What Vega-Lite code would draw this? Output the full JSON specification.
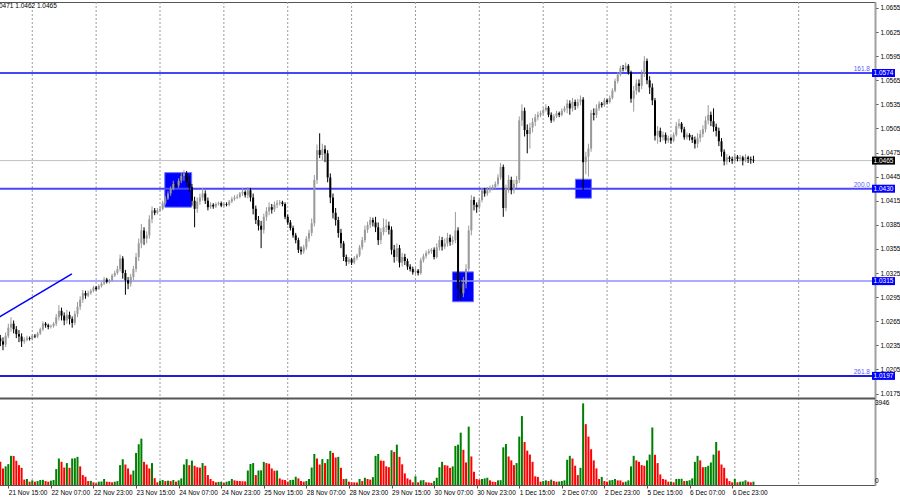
{
"$schema": "https://vega.github.io/schema/vega-lite/v6.json",
"background": "white",
"width": 900,
"height": 500,
"autosize": {"type": "fit", "contains": "padding"},
"padding": {"left": -7, "top": 1, "right": 0, "bottom": 4},
"config": {
  "view": {"stroke": "#555555"},
  "axis": {"labelFont": "Liberation Sans", "labelFontSize": 6.5, "labelColor": "#000000", "tickColor": "#555555", "domainColor": "#a0a0a0", "domainWidth": 2, "grid": false, "labelOverlap": false, "labelFlush": false, "labelBound": false},
  "text": {"font": "Liberation Sans"}
},
"resolve": {"scale": {"y": "independent"}, "axis": {"y": "independent"}},
"datasets": {
  "grid": [{"i":9},{"i":33},{"i":57},{"i":81},{"i":105},{"i":129},{"i":153},{"i":177},{"i":201},{"i":225},{"i":249},{"i":273},{"i":297}],
  "boxes": [{"i":58.8,"i2":68.9,"p":1.0450,"p2":1.0407},{"i":166.9,"i2":174.8,"p":1.03265,"p2":1.02893},{"i":213.1,"i2":219.1,"p":1.04418,"p2":1.04182}],
  "trend": [{"i":-3.5,"p":1.0270},{"i":23.9,"p":1.0324}],
  "fib": [{"p":1.0574,"f":"161.8"},{"p":1.0430,"f":"200.0"},{"p":1.0197,"f":"261.8"}],
  "tags": [{"p":1.0574,"k":"lvl"},{"p":1.0430,"k":"lvl"},{"p":1.0315,"k":"lvl"},{"p":1.0197,"k":"lvl"},{"p":1.0465,"k":"cur"}],
  "bars": [
{"i":-3,"o":1.0244,"h":1.0248,"l":1.0234,"c":1.0240,"v":1120},
{"i":-2,"o":1.0240,"h":1.0245,"l":1.0229,"c":1.0236,"v":800},
{"i":-1,"o":1.0236,"h":1.0251,"l":1.0233,"c":1.0247,"v":900},
{"i":0,"o":1.0247,"h":1.0262,"l":1.0244,"c":1.0257,"v":1010},
{"i":1,"o":1.0257,"h":1.0270,"l":1.0252,"c":1.0262,"v":1410},
{"i":2,"o":1.0262,"h":1.0266,"l":1.0250,"c":1.0255,"v":1400},
{"i":3,"o":1.0255,"h":1.0259,"l":1.0244,"c":1.0249,"v":1170},
{"i":4,"o":1.0249,"h":1.0254,"l":1.0239,"c":1.0246,"v":960},
{"i":5,"o":1.0246,"h":1.0250,"l":1.0233,"c":1.0240,"v":830},
{"i":6,"o":1.0240,"h":1.0245,"l":1.0237,"c":1.0242,"v":260},
{"i":7,"o":1.0242,"h":1.0247,"l":1.0240,"c":1.0244,"v":290},
{"i":8,"o":1.0244,"h":1.0246,"l":1.0241,"c":1.0243,"v":160},
{"i":9,"o":1.0243,"h":1.0249,"l":1.0241,"c":1.0247,"v":225},
{"i":10,"o":1.0247,"h":1.0249,"l":1.0244,"c":1.0246,"v":160},
{"i":11,"o":1.0246,"h":1.0252,"l":1.0244,"c":1.0250,"v":190},
{"i":12,"o":1.0250,"h":1.0257,"l":1.0248,"c":1.0255,"v":240},
{"i":13,"o":1.0255,"h":1.0265,"l":1.0253,"c":1.0262,"v":250},
{"i":14,"o":1.0262,"h":1.0264,"l":1.0257,"c":1.0260,"v":190},
{"i":15,"o":1.0260,"h":1.0262,"l":1.0255,"c":1.0258,"v":160},
{"i":16,"o":1.0258,"h":1.0261,"l":1.0256,"c":1.0259,"v":210},
{"i":17,"o":1.0259,"h":1.0264,"l":1.0257,"c":1.0262,"v":240},
{"i":18,"o":1.0262,"h":1.0274,"l":1.0259,"c":1.0270,"v":770},
{"i":19,"o":1.0270,"h":1.0285,"l":1.0266,"c":1.0278,"v":1280},
{"i":20,"o":1.0278,"h":1.0282,"l":1.0266,"c":1.0272,"v":1120},
{"i":21,"o":1.0272,"h":1.0276,"l":1.0260,"c":1.0266,"v":845},
{"i":22,"o":1.0266,"h":1.0279,"l":1.0262,"c":1.0273,"v":1060},
{"i":23,"o":1.0273,"h":1.0277,"l":1.0261,"c":1.0268,"v":830},
{"i":24,"o":1.0268,"h":1.0271,"l":1.0257,"c":1.0263,"v":1280},
{"i":25,"o":1.0263,"h":1.0278,"l":1.0260,"c":1.0274,"v":1290},
{"i":26,"o":1.0274,"h":1.0289,"l":1.0270,"c":1.0283,"v":1360},
{"i":27,"o":1.0283,"h":1.0296,"l":1.0279,"c":1.0292,"v":900},
{"i":28,"o":1.0292,"h":1.0304,"l":1.0288,"c":1.0300,"v":480},
{"i":29,"o":1.0300,"h":1.0303,"l":1.0293,"c":1.0297,"v":400},
{"i":30,"o":1.0297,"h":1.0303,"l":1.0295,"c":1.0300,"v":190},
{"i":31,"o":1.0300,"h":1.0305,"l":1.0298,"c":1.0303,"v":200},
{"i":32,"o":1.0303,"h":1.0309,"l":1.0301,"c":1.0307,"v":130},
{"i":33,"o":1.0307,"h":1.0309,"l":1.0303,"c":1.0305,"v":80},
{"i":34,"o":1.0305,"h":1.0311,"l":1.0304,"c":1.0309,"v":160},
{"i":35,"o":1.0309,"h":1.0314,"l":1.0307,"c":1.0312,"v":170},
{"i":36,"o":1.0312,"h":1.0320,"l":1.0310,"c":1.0317,"v":290},
{"i":37,"o":1.0317,"h":1.0319,"l":1.0312,"c":1.0314,"v":160},
{"i":38,"o":1.0314,"h":1.0318,"l":1.0312,"c":1.0316,"v":150},
{"i":39,"o":1.0316,"h":1.0324,"l":1.0314,"c":1.0322,"v":130},
{"i":40,"o":1.0322,"h":1.0328,"l":1.0320,"c":1.0325,"v":160},
{"i":41,"o":1.0325,"h":1.0334,"l":1.0323,"c":1.0330,"v":190},
{"i":42,"o":1.0330,"h":1.0348,"l":1.0327,"c":1.0343,"v":960},
{"i":43,"o":1.0343,"h":1.0346,"l":1.0318,"c":1.0325,"v":1250},
{"i":44,"o":1.0325,"h":1.0329,"l":1.0298,"c":1.0316,"v":990},
{"i":45,"o":1.0316,"h":1.0320,"l":1.0305,"c":1.0312,"v":800},
{"i":46,"o":1.0312,"h":1.0324,"l":1.0308,"c":1.0320,"v":510},
{"i":47,"o":1.0320,"h":1.0334,"l":1.0316,"c":1.0330,"v":700},
{"i":48,"o":1.0330,"h":1.0350,"l":1.0326,"c":1.0345,"v":1550},
{"i":49,"o":1.0345,"h":1.0368,"l":1.0340,"c":1.0362,"v":1970},
{"i":50,"o":1.0362,"h":1.0386,"l":1.0356,"c":1.0378,"v":2240},
{"i":51,"o":1.0378,"h":1.0382,"l":1.0360,"c":1.0368,"v":1120},
{"i":52,"o":1.0368,"h":1.0377,"l":1.0362,"c":1.0372,"v":990},
{"i":53,"o":1.0372,"h":1.0397,"l":1.0368,"c":1.0392,"v":800},
{"i":54,"o":1.0392,"h":1.0408,"l":1.0387,"c":1.0403,"v":1060},
{"i":55,"o":1.0403,"h":1.0406,"l":1.0397,"c":1.0400,"v":330},
{"i":56,"o":1.0400,"h":1.0406,"l":1.0398,"c":1.0403,"v":130},
{"i":57,"o":1.0403,"h":1.0408,"l":1.0401,"c":1.0405,"v":210},
{"i":58,"o":1.0405,"h":1.0415,"l":1.0403,"c":1.0412,"v":240},
{"i":59,"o":1.0412,"h":1.0421,"l":1.0410,"c":1.0418,"v":190},
{"i":60,"o":1.0418,"h":1.0427,"l":1.0416,"c":1.0424,"v":210},
{"i":61,"o":1.0424,"h":1.0433,"l":1.0421,"c":1.0430,"v":190},
{"i":62,"o":1.0430,"h":1.0440,"l":1.0428,"c":1.0436,"v":240},
{"i":63,"o":1.0436,"h":1.0439,"l":1.0431,"c":1.0434,"v":160},
{"i":64,"o":1.0434,"h":1.0443,"l":1.0431,"c":1.0440,"v":225},
{"i":65,"o":1.0440,"h":1.0450,"l":1.0437,"c":1.0446,"v":320},
{"i":66,"o":1.0446,"h":1.0453,"l":1.0440,"c":1.0449,"v":990},
{"i":67,"o":1.0449,"h":1.0452,"l":1.0433,"c":1.0438,"v":1250},
{"i":68,"o":1.0438,"h":1.0446,"l":1.0426,"c":1.0432,"v":960},
{"i":69,"o":1.0432,"h":1.0436,"l":1.0409,"c":1.0415,"v":1180},
{"i":70,"o":1.0415,"h":1.0420,"l":1.0382,"c":1.0405,"v":930},
{"i":71,"o":1.0405,"h":1.0419,"l":1.0400,"c":1.0414,"v":860},
{"i":72,"o":1.0414,"h":1.0424,"l":1.0410,"c":1.0419,"v":840},
{"i":73,"o":1.0419,"h":1.0431,"l":1.0415,"c":1.0424,"v":1060},
{"i":74,"o":1.0424,"h":1.0428,"l":1.0411,"c":1.0415,"v":930},
{"i":75,"o":1.0415,"h":1.0419,"l":1.0403,"c":1.0407,"v":480},
{"i":76,"o":1.0407,"h":1.0413,"l":1.0405,"c":1.0410,"v":290},
{"i":77,"o":1.0410,"h":1.0412,"l":1.0405,"c":1.0408,"v":190},
{"i":78,"o":1.0408,"h":1.0413,"l":1.0406,"c":1.0411,"v":130},
{"i":79,"o":1.0411,"h":1.0414,"l":1.0409,"c":1.0412,"v":150},
{"i":80,"o":1.0412,"h":1.0414,"l":1.0407,"c":1.0409,"v":160},
{"i":81,"o":1.0409,"h":1.0413,"l":1.0407,"c":1.0411,"v":100},
{"i":82,"o":1.0411,"h":1.0413,"l":1.0408,"c":1.0410,"v":160},
{"i":83,"o":1.0410,"h":1.0416,"l":1.0408,"c":1.0414,"v":190},
{"i":84,"o":1.0414,"h":1.0420,"l":1.0412,"c":1.0417,"v":290},
{"i":85,"o":1.0417,"h":1.0422,"l":1.0415,"c":1.0419,"v":225},
{"i":86,"o":1.0419,"h":1.0423,"l":1.0417,"c":1.0420,"v":200},
{"i":87,"o":1.0420,"h":1.0426,"l":1.0418,"c":1.0424,"v":190},
{"i":88,"o":1.0424,"h":1.0431,"l":1.0421,"c":1.0426,"v":180},
{"i":89,"o":1.0426,"h":1.0428,"l":1.0419,"c":1.0422,"v":175},
{"i":90,"o":1.0422,"h":1.0432,"l":1.0418,"c":1.0428,"v":700},
{"i":91,"o":1.0428,"h":1.0431,"l":1.0414,"c":1.0419,"v":1010},
{"i":92,"o":1.0419,"h":1.0424,"l":1.0398,"c":1.0405,"v":1060},
{"i":93,"o":1.0405,"h":1.0409,"l":1.0386,"c":1.0391,"v":480},
{"i":94,"o":1.0391,"h":1.0396,"l":1.0378,"c":1.0384,"v":700},
{"i":95,"o":1.0384,"h":1.0390,"l":1.0356,"c":1.0379,"v":710},
{"i":96,"o":1.0379,"h":1.0399,"l":1.0374,"c":1.0395,"v":1120},
{"i":97,"o":1.0395,"h":1.0407,"l":1.0390,"c":1.0402,"v":1060},
{"i":98,"o":1.0402,"h":1.0413,"l":1.0397,"c":1.0407,"v":1030},
{"i":99,"o":1.0407,"h":1.0411,"l":1.0399,"c":1.0404,"v":800},
{"i":100,"o":1.0404,"h":1.0414,"l":1.0401,"c":1.0410,"v":690},
{"i":101,"o":1.0410,"h":1.0416,"l":1.0406,"c":1.0412,"v":700},
{"i":102,"o":1.0412,"h":1.0416,"l":1.0409,"c":1.0413,"v":320},
{"i":103,"o":1.0413,"h":1.0415,"l":1.0408,"c":1.0411,"v":260},
{"i":104,"o":1.0411,"h":1.0413,"l":1.0392,"c":1.0395,"v":240},
{"i":105,"o":1.0395,"h":1.0398,"l":1.0385,"c":1.0388,"v":160},
{"i":106,"o":1.0388,"h":1.0391,"l":1.0378,"c":1.0381,"v":240},
{"i":107,"o":1.0381,"h":1.0384,"l":1.0369,"c":1.0372,"v":250},
{"i":108,"o":1.0372,"h":1.0375,"l":1.0362,"c":1.0366,"v":400},
{"i":109,"o":1.0366,"h":1.0369,"l":1.0350,"c":1.0354,"v":320},
{"i":110,"o":1.0354,"h":1.0358,"l":1.0348,"c":1.0352,"v":190},
{"i":111,"o":1.0352,"h":1.0360,"l":1.0349,"c":1.0357,"v":160},
{"i":112,"o":1.0357,"h":1.0371,"l":1.0354,"c":1.0368,"v":190},
{"i":113,"o":1.0368,"h":1.0379,"l":1.0364,"c":1.0375,"v":290},
{"i":114,"o":1.0375,"h":1.0393,"l":1.0371,"c":1.0387,"v":845},
{"i":115,"o":1.0387,"h":1.0447,"l":1.0383,"c":1.0441,"v":1500},
{"i":116,"o":1.0441,"h":1.0485,"l":1.0436,"c":1.0478,"v":1280},
{"i":117,"o":1.0478,"h":1.0499,"l":1.0468,"c":1.0472,"v":990},
{"i":118,"o":1.0472,"h":1.0486,"l":1.0465,"c":1.0479,"v":1250},
{"i":119,"o":1.0479,"h":1.0484,"l":1.0463,"c":1.0474,"v":1060},
{"i":120,"o":1.0474,"h":1.0478,"l":1.0438,"c":1.0444,"v":1250},
{"i":121,"o":1.0444,"h":1.0449,"l":1.0412,"c":1.0419,"v":1650},
{"i":122,"o":1.0419,"h":1.0424,"l":1.0393,"c":1.0400,"v":1550},
{"i":123,"o":1.0400,"h":1.0406,"l":1.0384,"c":1.0391,"v":1330},
{"i":124,"o":1.0391,"h":1.0395,"l":1.0369,"c":1.0375,"v":1360},
{"i":125,"o":1.0375,"h":1.0380,"l":1.0356,"c":1.0362,"v":830},
{"i":126,"o":1.0362,"h":1.0365,"l":1.0340,"c":1.0345,"v":290},
{"i":127,"o":1.0345,"h":1.0348,"l":1.0334,"c":1.0339,"v":300},
{"i":128,"o":1.0339,"h":1.0345,"l":1.0336,"c":1.0342,"v":160},
{"i":129,"o":1.0342,"h":1.0344,"l":1.0335,"c":1.0338,"v":130},
{"i":130,"o":1.0338,"h":1.0346,"l":1.0336,"c":1.0344,"v":125},
{"i":131,"o":1.0344,"h":1.0349,"l":1.0341,"c":1.0347,"v":120},
{"i":132,"o":1.0347,"h":1.0360,"l":1.0345,"c":1.0357,"v":290},
{"i":133,"o":1.0357,"h":1.0370,"l":1.0354,"c":1.0366,"v":190},
{"i":134,"o":1.0366,"h":1.0384,"l":1.0363,"c":1.0379,"v":350},
{"i":135,"o":1.0379,"h":1.0389,"l":1.0375,"c":1.0385,"v":290},
{"i":136,"o":1.0385,"h":1.0395,"l":1.0381,"c":1.0391,"v":260},
{"i":137,"o":1.0391,"h":1.0394,"l":1.0383,"c":1.0388,"v":380},
{"i":138,"o":1.0388,"h":1.0395,"l":1.0376,"c":1.0382,"v":1410},
{"i":139,"o":1.0382,"h":1.0388,"l":1.0360,"c":1.0366,"v":1500},
{"i":140,"o":1.0366,"h":1.0381,"l":1.0361,"c":1.0376,"v":1180},
{"i":141,"o":1.0376,"h":1.0393,"l":1.0372,"c":1.0382,"v":1170},
{"i":142,"o":1.0382,"h":1.0392,"l":1.0376,"c":1.0384,"v":900},
{"i":143,"o":1.0384,"h":1.0389,"l":1.0373,"c":1.0379,"v":860},
{"i":144,"o":1.0379,"h":1.0383,"l":1.0348,"c":1.0354,"v":1680},
{"i":145,"o":1.0354,"h":1.0360,"l":1.0338,"c":1.0345,"v":1600},
{"i":146,"o":1.0345,"h":1.0362,"l":1.0340,"c":1.0356,"v":1950},
{"i":147,"o":1.0356,"h":1.0360,"l":1.0332,"c":1.0338,"v":1360},
{"i":148,"o":1.0338,"h":1.0350,"l":1.0333,"c":1.0345,"v":1000},
{"i":149,"o":1.0345,"h":1.0349,"l":1.0335,"c":1.0340,"v":560},
{"i":150,"o":1.0340,"h":1.0343,"l":1.0329,"c":1.0333,"v":320},
{"i":151,"o":1.0333,"h":1.0336,"l":1.0327,"c":1.0330,"v":260},
{"i":152,"o":1.0330,"h":1.0333,"l":1.0323,"c":1.0326,"v":130},
{"i":153,"o":1.0326,"h":1.0331,"l":1.0323,"c":1.0328,"v":420},
{"i":154,"o":1.0328,"h":1.0330,"l":1.0322,"c":1.0325,"v":130},
{"i":155,"o":1.0325,"h":1.0344,"l":1.0323,"c":1.0341,"v":225},
{"i":156,"o":1.0341,"h":1.0349,"l":1.0338,"c":1.0346,"v":235},
{"i":157,"o":1.0346,"h":1.0353,"l":1.0343,"c":1.0350,"v":130},
{"i":158,"o":1.0350,"h":1.0355,"l":1.0348,"c":1.0352,"v":120},
{"i":159,"o":1.0352,"h":1.0356,"l":1.0349,"c":1.0354,"v":100},
{"i":160,"o":1.0354,"h":1.0357,"l":1.0342,"c":1.0345,"v":190},
{"i":161,"o":1.0345,"h":1.0362,"l":1.0343,"c":1.0357,"v":350},
{"i":162,"o":1.0357,"h":1.0371,"l":1.0353,"c":1.0366,"v":860},
{"i":163,"o":1.0366,"h":1.0370,"l":1.0353,"c":1.0358,"v":1120},
{"i":164,"o":1.0358,"h":1.0368,"l":1.0355,"c":1.0362,"v":960},
{"i":165,"o":1.0362,"h":1.0375,"l":1.0358,"c":1.0369,"v":940},
{"i":166,"o":1.0369,"h":1.0373,"l":1.0359,"c":1.0364,"v":830},
{"i":167,"o":1.0364,"h":1.0371,"l":1.0360,"c":1.0366,"v":900},
{"i":168,"o":1.0366,"h":1.0401,"l":1.0362,"c":1.0378,"v":1890},
{"i":169,"o":1.0378,"h":1.0382,"l":1.0292,"c":1.0306,"v":1950},
{"i":170,"o":1.0306,"h":1.0316,"l":1.0292,"c":1.0300,"v":2530},
{"i":171,"o":1.0300,"h":1.0320,"l":1.0295,"c":1.0312,"v":1700},
{"i":172,"o":1.0312,"h":1.0336,"l":1.0306,"c":1.0330,"v":1090},
{"i":173,"o":1.0330,"h":1.0384,"l":1.0326,"c":1.0378,"v":2820},
{"i":174,"o":1.0378,"h":1.0422,"l":1.0372,"c":1.0416,"v":1380},
{"i":175,"o":1.0416,"h":1.0420,"l":1.0403,"c":1.0410,"v":640},
{"i":176,"o":1.0410,"h":1.0413,"l":1.0400,"c":1.0407,"v":290},
{"i":177,"o":1.0407,"h":1.0419,"l":1.0404,"c":1.0416,"v":260},
{"i":178,"o":1.0416,"h":1.0431,"l":1.0413,"c":1.0428,"v":290},
{"i":179,"o":1.0428,"h":1.0431,"l":1.0420,"c":1.0424,"v":320},
{"i":180,"o":1.0424,"h":1.0432,"l":1.0421,"c":1.0428,"v":350},
{"i":181,"o":1.0428,"h":1.0434,"l":1.0425,"c":1.0430,"v":225},
{"i":182,"o":1.0430,"h":1.0435,"l":1.0428,"c":1.0432,"v":160},
{"i":183,"o":1.0432,"h":1.0439,"l":1.0430,"c":1.0436,"v":150},
{"i":184,"o":1.0436,"h":1.0448,"l":1.0433,"c":1.0444,"v":225},
{"i":185,"o":1.0444,"h":1.0462,"l":1.0441,"c":1.0457,"v":235},
{"i":186,"o":1.0457,"h":1.0460,"l":1.0395,"c":1.0406,"v":1820},
{"i":187,"o":1.0406,"h":1.0435,"l":1.0402,"c":1.0430,"v":1980},
{"i":188,"o":1.0430,"h":1.0447,"l":1.0425,"c":1.0441,"v":1380},
{"i":189,"o":1.0441,"h":1.0445,"l":1.0423,"c":1.0428,"v":1190},
{"i":190,"o":1.0428,"h":1.0441,"l":1.0424,"c":1.0436,"v":960},
{"i":191,"o":1.0436,"h":1.0446,"l":1.0431,"c":1.0441,"v":1060},
{"i":192,"o":1.0441,"h":1.0520,"l":1.0437,"c":1.0515,"v":2340},
{"i":193,"o":1.0515,"h":1.0535,"l":1.0508,"c":1.0527,"v":3330},
{"i":194,"o":1.0527,"h":1.0531,"l":1.0495,"c":1.0503,"v":2080},
{"i":195,"o":1.0503,"h":1.0510,"l":1.0474,"c":1.0498,"v":1660},
{"i":196,"o":1.0498,"h":1.0512,"l":1.0480,"c":1.0506,"v":1470},
{"i":197,"o":1.0506,"h":1.0518,"l":1.0500,"c":1.0513,"v":1120},
{"i":198,"o":1.0513,"h":1.0523,"l":1.0508,"c":1.0519,"v":420},
{"i":199,"o":1.0519,"h":1.0526,"l":1.0515,"c":1.0522,"v":390},
{"i":200,"o":1.0522,"h":1.0527,"l":1.0519,"c":1.0524,"v":160},
{"i":201,"o":1.0524,"h":1.0531,"l":1.0521,"c":1.0528,"v":190},
{"i":202,"o":1.0528,"h":1.0535,"l":1.0526,"c":1.0531,"v":225},
{"i":203,"o":1.0531,"h":1.0533,"l":1.0519,"c":1.0522,"v":190},
{"i":204,"o":1.0522,"h":1.0525,"l":1.0512,"c":1.0515,"v":260},
{"i":205,"o":1.0515,"h":1.0523,"l":1.0513,"c":1.0520,"v":190},
{"i":206,"o":1.0520,"h":1.0527,"l":1.0518,"c":1.0524,"v":160},
{"i":207,"o":1.0524,"h":1.0526,"l":1.0519,"c":1.0522,"v":170},
{"i":208,"o":1.0522,"h":1.0530,"l":1.0520,"c":1.0527,"v":190},
{"i":209,"o":1.0527,"h":1.0533,"l":1.0525,"c":1.0530,"v":225},
{"i":210,"o":1.0530,"h":1.0541,"l":1.0524,"c":1.0536,"v":1220},
{"i":211,"o":1.0536,"h":1.0540,"l":1.0522,"c":1.0530,"v":1410},
{"i":212,"o":1.0530,"h":1.0543,"l":1.0526,"c":1.0538,"v":1280},
{"i":213,"o":1.0538,"h":1.0541,"l":1.0528,"c":1.0533,"v":930},
{"i":214,"o":1.0533,"h":1.0542,"l":1.0530,"c":1.0538,"v":480},
{"i":215,"o":1.0538,"h":1.0546,"l":1.0534,"c":1.0541,"v":830},
{"i":216,"o":1.0541,"h":1.0544,"l":1.0428,"c":1.0463,"v":3946},
{"i":217,"o":1.0463,"h":1.0476,"l":1.0448,"c":1.0470,"v":2940},
{"i":218,"o":1.0470,"h":1.0486,"l":1.0445,"c":1.0480,"v":2340},
{"i":219,"o":1.0480,"h":1.0528,"l":1.0476,"c":1.0524,"v":1730},
{"i":220,"o":1.0524,"h":1.0530,"l":1.0515,"c":1.0522,"v":1190},
{"i":221,"o":1.0522,"h":1.0535,"l":1.0518,"c":1.0530,"v":800},
{"i":222,"o":1.0530,"h":1.0539,"l":1.0527,"c":1.0536,"v":290},
{"i":223,"o":1.0536,"h":1.0538,"l":1.0531,"c":1.0534,"v":390},
{"i":224,"o":1.0534,"h":1.0543,"l":1.0532,"c":1.0540,"v":190},
{"i":225,"o":1.0540,"h":1.0542,"l":1.0535,"c":1.0538,"v":160},
{"i":226,"o":1.0538,"h":1.0546,"l":1.0536,"c":1.0543,"v":225},
{"i":227,"o":1.0543,"h":1.0555,"l":1.0541,"c":1.0552,"v":240},
{"i":228,"o":1.0552,"h":1.0567,"l":1.0550,"c":1.0564,"v":290},
{"i":229,"o":1.0564,"h":1.0575,"l":1.0561,"c":1.0572,"v":225},
{"i":230,"o":1.0572,"h":1.0583,"l":1.0570,"c":1.0580,"v":220},
{"i":231,"o":1.0580,"h":1.0584,"l":1.0576,"c":1.0579,"v":130},
{"i":232,"o":1.0579,"h":1.0587,"l":1.0577,"c":1.0583,"v":160},
{"i":233,"o":1.0583,"h":1.0585,"l":1.0572,"c":1.0575,"v":225},
{"i":234,"o":1.0575,"h":1.0577,"l":1.0537,"c":1.0542,"v":900},
{"i":235,"o":1.0542,"h":1.0558,"l":1.0526,"c":1.0552,"v":1410},
{"i":236,"o":1.0552,"h":1.0566,"l":1.0547,"c":1.0561,"v":1190},
{"i":237,"o":1.0561,"h":1.0566,"l":1.0550,"c":1.0558,"v":1120},
{"i":238,"o":1.0558,"h":1.0578,"l":1.0554,"c":1.0573,"v":960},
{"i":239,"o":1.0573,"h":1.0595,"l":1.0569,"c":1.0589,"v":930},
{"i":240,"o":1.0589,"h":1.0592,"l":1.0560,"c":1.0565,"v":1190},
{"i":241,"o":1.0565,"h":1.0570,"l":1.0548,"c":1.0556,"v":1470},
{"i":242,"o":1.0556,"h":1.0561,"l":1.0534,"c":1.0540,"v":2780},
{"i":243,"o":1.0540,"h":1.0543,"l":1.0490,"c":1.0496,"v":1460},
{"i":244,"o":1.0496,"h":1.0508,"l":1.0486,"c":1.0502,"v":1060},
{"i":245,"o":1.0502,"h":1.0506,"l":1.0488,"c":1.0494,"v":510},
{"i":246,"o":1.0494,"h":1.0501,"l":1.0490,"c":1.0497,"v":290},
{"i":247,"o":1.0497,"h":1.0500,"l":1.0486,"c":1.0490,"v":260},
{"i":248,"o":1.0490,"h":1.0496,"l":1.0487,"c":1.0493,"v":160},
{"i":249,"o":1.0493,"h":1.0495,"l":1.0486,"c":1.0490,"v":165},
{"i":250,"o":1.0490,"h":1.0500,"l":1.0488,"c":1.0497,"v":130},
{"i":251,"o":1.0497,"h":1.0513,"l":1.0495,"c":1.0508,"v":290},
{"i":252,"o":1.0508,"h":1.0517,"l":1.0505,"c":1.0511,"v":295},
{"i":253,"o":1.0511,"h":1.0513,"l":1.0500,"c":1.0504,"v":300},
{"i":254,"o":1.0504,"h":1.0507,"l":1.0491,"c":1.0494,"v":190},
{"i":255,"o":1.0494,"h":1.0500,"l":1.0491,"c":1.0497,"v":200},
{"i":256,"o":1.0497,"h":1.0499,"l":1.0490,"c":1.0494,"v":230},
{"i":257,"o":1.0494,"h":1.0497,"l":1.0487,"c":1.0491,"v":320},
{"i":258,"o":1.0491,"h":1.0495,"l":1.0480,"c":1.0486,"v":1120},
{"i":259,"o":1.0486,"h":1.0499,"l":1.0481,"c":1.0493,"v":1410},
{"i":260,"o":1.0493,"h":1.0503,"l":1.0488,"c":1.0498,"v":1190},
{"i":261,"o":1.0498,"h":1.0509,"l":1.0494,"c":1.0504,"v":860},
{"i":262,"o":1.0504,"h":1.0520,"l":1.0500,"c":1.0515,"v":870},
{"i":263,"o":1.0515,"h":1.0534,"l":1.0510,"c":1.0522,"v":930},
{"i":264,"o":1.0522,"h":1.0526,"l":1.0508,"c":1.0514,"v":1090},
{"i":265,"o":1.0514,"h":1.0530,"l":1.0501,"c":1.0507,"v":1470},
{"i":266,"o":1.0507,"h":1.0511,"l":1.0495,"c":1.0502,"v":2080},
{"i":267,"o":1.0502,"h":1.0506,"l":1.0483,"c":1.0489,"v":1660},
{"i":268,"o":1.0489,"h":1.0493,"l":1.0470,"c":1.0476,"v":990},
{"i":269,"o":1.0476,"h":1.0479,"l":1.0459,"c":1.0464,"v":830},
{"i":270,"o":1.0464,"h":1.0473,"l":1.0460,"c":1.0469,"v":320},
{"i":271,"o":1.0469,"h":1.0471,"l":1.0463,"c":1.0467,"v":190},
{"i":272,"o":1.0467,"h":1.0470,"l":1.0461,"c":1.0465,"v":130},
{"i":273,"o":1.0465,"h":1.0474,"l":1.0463,"c":1.0470,"v":290},
{"i":274,"o":1.0470,"h":1.0472,"l":1.0464,"c":1.0467,"v":130},
{"i":275,"o":1.0467,"h":1.0472,"l":1.0464,"c":1.0469,"v":160},
{"i":276,"o":1.0469,"h":1.0471,"l":1.0459,"c":1.0465,"v":170},
{"i":277,"o":1.0465,"h":1.0473,"l":1.0463,"c":1.0469,"v":225},
{"i":278,"o":1.0469,"h":1.0471,"l":1.0462,"c":1.0467,"v":160},
{"i":279,"o":1.0467,"h":1.0470,"l":1.0461,"c":1.0466,"v":130},
{"i":280,"o":1.0466,"h":1.0471,"l":1.0462,"c":1.0465,"v":160}
  ]
},
"layer": [
  {"data": {"name": "grid"}, "mark": {"type": "rule", "color": "#9a9a9a", "strokeDash": [2, 2], "strokeWidth": 1},
   "encoding": {"x": {"field": "i", "type": "quantitative", "scale": {"domain": [-3.5, 323.8], "nice": false, "zero": false}}}},
  {"data": {"name": "boxes"}, "mark": {"type": "rect", "color": "#0000ff", "stroke": "#7070ff", "strokeWidth": 1, "clip": true},
   "encoding": {"x": {"field": "i", "type": "quantitative"}, "x2": {"field": "i2"},
                "y": {"field": "p", "type": "quantitative", "scale": {"domain": [1.00612, 1.06624], "nice": false, "zero": false}, "axis": null}, "y2": {"field": "p2"}}},
  {"data": {"values": [{"p": 1.0465}]}, "mark": {"type": "rule", "color": "#c0c0c0", "strokeWidth": 1},
   "encoding": {"y": {"field": "p", "type": "quantitative", "scale": {"domain": [1.00612, 1.06624], "nice": false, "zero": false}, "axis": null}}},
  {"data": {"values": [{"p": 1.0574}, {"p": 1.0430}]}, "mark": {"type": "rule", "color": "#4646ff", "strokeWidth": 2},
   "encoding": {"y": {"field": "p", "type": "quantitative", "scale": {"domain": [1.00612, 1.06624], "nice": false, "zero": false}, "axis": null}}},
  {"data": {"values": [{"p": 1.0315}]}, "mark": {"type": "rule", "color": "#9090ff", "strokeWidth": 1.5},
   "encoding": {"y": {"field": "p", "type": "quantitative", "scale": {"domain": [1.00612, 1.06624], "nice": false, "zero": false}, "axis": null}}},
  {"data": {"values": [{"p": 1.0197}]}, "mark": {"type": "rule", "color": "#1e1ee0", "strokeWidth": 2},
   "encoding": {"y": {"field": "p", "type": "quantitative", "scale": {"domain": [1.00612, 1.06624], "nice": false, "zero": false}, "axis": null}}},
  {"data": {"name": "trend"}, "mark": {"type": "line", "color": "#0000ff", "strokeWidth": 1.5, "clip": true},
   "encoding": {"x": {"field": "i", "type": "quantitative"},
                "y": {"field": "p", "type": "quantitative", "scale": {"domain": [1.00612, 1.06624], "nice": false, "zero": false}, "axis": null}}},
  {"data": {"name": "bars"}, "mark": {"type": "rule", "strokeWidth": 1, "clip": true},
   "encoding": {"x": {"field": "i", "type": "quantitative"},
                "y": {"field": "l", "type": "quantitative", "scale": {"domain": [1.00612, 1.06624], "nice": false, "zero": false},
                      "axis": {"orient": "right", "title": null, "values": [1.0175, 1.0205, 1.0235, 1.0265, 1.0295, 1.0325, 1.0355, 1.0385, 1.0415, 1.0445, 1.0475, 1.0505, 1.0535, 1.0565, 1.0595, 1.0625, 1.0655], "format": ".4f", "tickSize": 3, "labelPadding": 2, "labelFlush": false, "labelOverlap": false, "labelBound": false}},
                "y2": {"field": "h"},
                "color": {"condition": {"test": "datum.c >= datum.o", "value": "#999999"}, "value": "#000000"}}},
  {"data": {"name": "bars"}, "mark": {"type": "bar", "size": 2, "orient": "vertical", "clip": true},
   "encoding": {"x": {"field": "i", "type": "quantitative"},
                "y": {"field": "o", "type": "quantitative", "scale": {"domain": [1.00612, 1.06624], "nice": false, "zero": false}, "axis": null},
                "y2": {"field": "c"},
                "color": {"condition": {"test": "datum.c >= datum.o", "value": "#999999"}, "value": "#000000"}}},
  {"data": {"values": [{"p": 1.0169}]}, "mark": {"type": "rule", "color": "#555555", "strokeWidth": 2},
   "encoding": {"y": {"field": "p", "type": "quantitative", "scale": {"domain": [1.00612, 1.06624], "nice": false, "zero": false}, "axis": null}}},
  {"data": {"name": "bars"},
   "transform": [{"window": [{"op": "lag", "field": "v", "as": "pv"}], "sort": [{"field": "i", "order": "ascending"}]}],
   "mark": {"type": "bar", "size": 2, "orient": "vertical", "clip": true},
   "encoding": {"x": {"field": "i", "type": "quantitative",
                      "axis": {"orient": "bottom", "title": null, "values": [0, 16, 32, 48, 64, 80, 96, 112, 128, 144, 160, 176, 192, 208, 224, 240, 256, 272],
                               "labelExpr": "['21 Nov 15:00','22 Nov 07:00','22 Nov 23:00','23 Nov 15:00','24 Nov 07:00','24 Nov 23:00','25 Nov 15:00','28 Nov 07:00','28 Nov 23:00','29 Nov 15:00','30 Nov 07:00','30 Nov 23:00','1 Dec 15:00','2 Dec 07:00','2 Dec 23:00','5 Dec 15:00','6 Dec 07:00','6 Dec 23:00'][round(datum.value / 16)]",
                               "labelAlign": "left", "labelBaseline": "top", "labelPadding": 1, "labelFlush": false, "labelOverlap": false, "labelBound": false,
                               "domain": false, "tickSize": 3, "tickColor": "#555555"}},
                "y": {"field": "v", "type": "quantitative", "scale": {"domain": [0, 23339], "nice": false, "zero": false}, "axis": null},
                "y2": {"datum": 0},
                "color": {"condition": {"test": "datum.pv != null && datum.v > datum.pv", "value": "#008000"}, "value": "#ff0000"}}},
  {"data": {"values": [{"v": 3946, "t": "3946"}]}, "mark": {"type": "text", "align": "left", "baseline": "middle", "dx": 5, "fontSize": 6.5, "color": "#000000"},
   "encoding": {"x": {"datum": 323.8, "type": "quantitative"},
                "y": {"field": "v", "type": "quantitative", "scale": {"domain": [0, 23339], "nice": false, "zero": false}, "axis": null},
                "text": {"field": "t"}}},
  {"data": {"values": [{"v": 0, "t": "0"}]}, "mark": {"type": "text", "align": "left", "baseline": "bottom", "dx": 5, "dy": -1, "fontSize": 6.5, "color": "#000000"},
   "encoding": {"x": {"datum": 323.8, "type": "quantitative"},
                "y": {"field": "v", "type": "quantitative", "scale": {"domain": [0, 23339], "nice": false, "zero": false}, "axis": null},
                "text": {"field": "t"}}},
  {"data": {"name": "fib"}, "mark": {"type": "text", "align": "right", "baseline": "bottom", "dy": -1, "color": "#5a5aff", "fontSize": 6.5},
   "encoding": {"x": {"datum": 323.8, "type": "quantitative"},
                "y": {"field": "p", "type": "quantitative", "scale": {"domain": [1.00612, 1.06624], "nice": false, "zero": false}, "axis": null},
                "text": {"field": "f"}}},
  {"data": {"name": "tags"}, "mark": {"type": "tick", "orient": "horizontal", "size": 23, "thickness": 8, "opacity": 1, "xOffset": 13.5},
   "encoding": {"x": {"datum": 323.8, "type": "quantitative"},
                "y": {"field": "p", "type": "quantitative", "scale": {"domain": [1.00612, 1.06624], "nice": false, "zero": false}, "axis": null},
                "color": {"field": "k", "type": "nominal", "scale": {"domain": ["lvl", "cur"], "range": ["#0000ff", "#000000"]}, "legend": null}}},
  {"data": {"name": "tags"}, "mark": {"type": "text", "color": "#ffffff", "fontSize": 6.5, "align": "center", "baseline": "middle", "dx": 13.5},
   "encoding": {"x": {"datum": 323.8, "type": "quantitative"},
                "y": {"field": "p", "type": "quantitative", "scale": {"domain": [1.00612, 1.06624], "nice": false, "zero": false}, "axis": null},
                "text": {"field": "p", "type": "quantitative", "format": ".4f"}}},
  {"data": {"values": [{"t": "0471 1.0462 1.0465"}]}, "mark": {"type": "text", "align": "left", "baseline": "middle", "fontSize": 6.5, "color": "#000000"},
   "encoding": {"x": {"datum": -3.5, "type": "quantitative"},
                "y": {"datum": 1.0657, "type": "quantitative", "scale": {"domain": [1.00612, 1.06624], "nice": false, "zero": false}, "axis": null},
                "text": {"field": "t"}}}
]
}
